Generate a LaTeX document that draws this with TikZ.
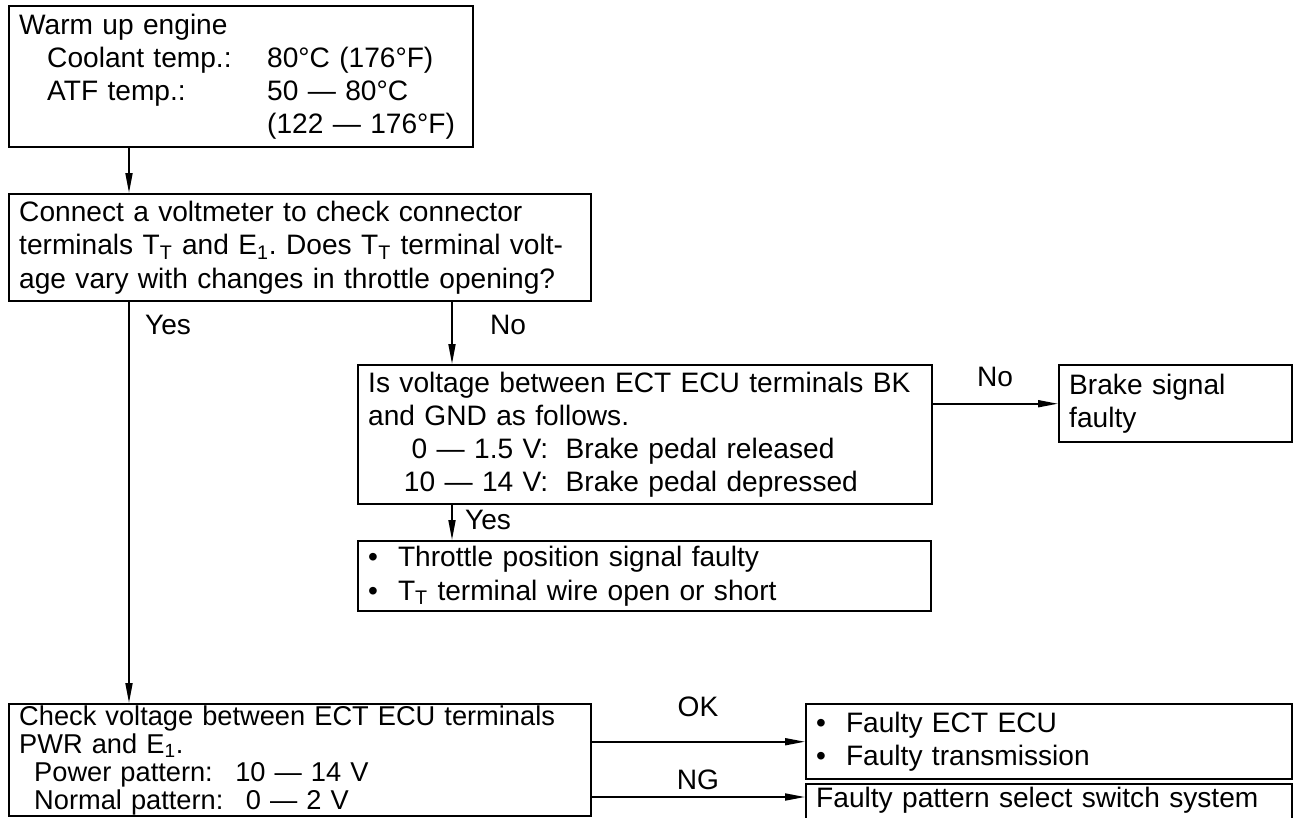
\documentclass[tikz,border=0pt]{standalone}
\usepackage{fontspec}
\setmainfont{Liberation Sans}
\usetikzlibrary{arrows.meta}
\frenchspacing

\begin{document}
\begin{tikzpicture}[x=0.02cm, y=-0.02cm,
  box/.style={draw, line width=1.4pt, anchor=north west, align=left,
    inner xsep=0.2cm, inner ysep=0pt, font=\fontsize{16}{18.8}\selectfont},
  lbl/.style={font=\fontsize{16}{18.8}\selectfont},
  arr/.style={line width=1pt, -{Triangle[length=0.4cm,width=0.14cm]}}]
  \useasboundingbox (0,0) rectangle (1299,818);
  \clip (0,0) rectangle (1299,818);

  \node[box, text width=8.88cm, minimum height=2.82cm] (warm) at (8,5)
    {Warm up engine\\
     \hspace*{0.56cm}\makebox[4.4cm][l]{Coolant temp.:}80°C (176°F)\\
     \hspace*{0.56cm}\makebox[4.4cm][l]{ATF temp.:}50 \textemdash{} 80°C\\
     \hspace*{4.96cm}(122 \textemdash{} 176°F)};
  \node[box, text width=11.24cm, minimum height=2.14cm] (volt) at (8,193)
    {Connect a voltmeter to check connector\\
     terminals T\textsubscript{T} and E\textsubscript{1}. Does T\textsubscript{T} terminal volt-\\
     age vary with changes in throttle opening?};
  \node[box, text width=11.08cm, minimum height=2.78cm] (bk) at (357,364)
    {Is voltage between ECT ECU terminals BK\\
     and GND as follows.\\
     \makebox[3.6cm][r]{0 \textemdash{} 1.5 V:}\hspace{0.35cm}Brake pedal released\\
     \makebox[3.6cm][r]{10 \textemdash{} 14 V:}\hspace{0.35cm}Brake pedal depressed};
  \node[box, text width=4.26cm, minimum height=1.54cm] (brake) at (1058,364)
    {Brake signal\\faulty};
  \node[box, text width=11.06cm, minimum height=1.40cm] (tps) at (357,540)
    {\textbullet\hspace{0.4cm}Throttle position signal faulty\\
     \textbullet\hspace{0.4cm}T\textsubscript{T} terminal wire open or short};
  \node[box, text width=11.24cm, minimum height=2.24cm,
    font=\fontsize{15.5}{16}\selectfont] (pwr) at (8,703)
    {Check voltage between ECT ECU terminals\\
     PWR and E\textsubscript{1}.\\
     \hspace*{0.3cm}Power pattern:\hspace{0.45cm}10 \textemdash{} 14 V\\
     \hspace*{0.3cm}Normal pattern:\hspace{0.45cm}0 \textemdash{} 2 V};
  \node[box, text width=9.32cm, minimum height=1.50cm] (ecu) at (805,703)
    {\textbullet\hspace{0.4cm}Faulty ECT ECU\\
     \textbullet\hspace{0.4cm}Faulty transmission};
  \node[box, text width=9.32cm, text depth=1cm, inner ysep=0.05cm] (sw) at (805,783)
    {Faulty pattern select switch system};

  \coordinate (c1) at (129,0);
  \coordinate (c2) at (452,0);
  \coordinate (c3) at (0,797);

  \draw[arr] (warm.south -| c1) -- (volt.north -| c1);
  \draw[arr] (volt.south -| c1) -- (pwr.north -| c1);
  \draw[arr] (volt.south -| c2) -- (bk.north -| c2);
  \draw[arr] (bk.east |- brake.west) -- (brake.west);
  \draw[arr] (bk.south -| c2) -- (tps.north -| c2);
  \draw[arr] (pwr.east |- ecu.west) -- (ecu.west);
  \draw[arr] (pwr.east |- c3) -- (sw.west |- c3);

  \node[lbl] (yes1) at (168,325) {Yes};
  \node[lbl] (no1) at (508,325) {No};
  \node[lbl] (no2) at (995,377) {No};
  \node[lbl] (yes2) at (488,520) {Yes};
  \node[lbl] (ok) at (698,707) {OK};
  \node[lbl] (ng) at (698,780) {NG};
\end{tikzpicture}
\end{document}
